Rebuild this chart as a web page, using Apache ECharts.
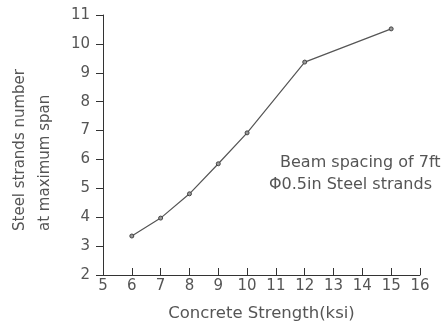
<!DOCTYPE html>
<html><head><meta charset="utf-8">
<script src="https://cdn.jsdelivr.net/npm/echarts@6/dist/echarts.min.js"></script>
<style>html,body{margin:0;padding:0;background:#fff}#c{width:446px;height:322px}</style>
</head><body><div id="c"></div>
<script>
var strength = [6, 7, 8, 9, 10, 12, 15];
var strands = [3.35, 3.97, 4.81, 5.85, 6.92, 9.37, 10.52];
var xTitle = 'Concrete Strength(ksi)';
var yTitle1 = 'Steel strands number';
var yTitle2 = 'at maximum span';
var note1 = 'Beam spacing of 7ft';
var note2 = 'Φ0.5in Steel strands';

var FONT = 'DejaVu Sans';
var TXT = '#555';
var chart = echarts.init(document.getElementById('c'), null, {renderer: 'canvas'});
chart.setOption({
  animation: false,
  backgroundColor: '#fff',
  grid: {left: 103, top: 15, right: 26, bottom: 47, containLabel: false, outerBoundsMode: 'none'},
  xAxis: {
    type: 'value', min: 5, max: 16, interval: 1,
    name: xTitle, nameLocation: 'middle', nameGap: 30,
    nameTextStyle: {fontFamily: FONT, fontSize: 16.5, color: TXT},
    axisLine: {lineStyle: {color: '#333', width: 1}},
    axisTick: {show: true, inside: true, length: 7, lineStyle: {color: '#333'}},
    axisLabel: {fontFamily: FONT, fontSize: 15, color: TXT, margin: 4},
    splitLine: {show: false}
  },
  yAxis: {
    type: 'value', min: 2, max: 11, interval: 1,
    axisLine: {show: true, lineStyle: {color: '#333', width: 1}},
    axisTick: {show: true, inside: false, length: 7, lineStyle: {color: '#333'}},
    axisLabel: {fontFamily: FONT, fontSize: 15, color: TXT, margin: 13},
    splitLine: {show: false}
  },
  series: [{
    type: 'line',
    data: strength.map(function (x, i) { return [x, strands[i]]; }),
    symbol: 'circle', symbolSize: 4, showSymbol: true,
    lineStyle: {color: '#555', width: 1.2},
    itemStyle: {color: '#999', borderColor: '#444', borderWidth: 1}
  }],
  graphic: [
    {type: 'text', x: 20, y: 231, rotation: Math.PI / 2,
     style: {text: yTitle1, font: '15px "' + FONT + '"', fill: TXT, align: 'left', verticalAlign: 'middle'}},
    {type: 'text', x: 45, y: 231, rotation: Math.PI / 2,
     style: {text: yTitle2, font: '15px "' + FONT + '"', fill: TXT, align: 'left', verticalAlign: 'middle'}},
    {type: 'text', x: 280, y: 163,
     style: {text: note1, font: '16px "' + FONT + '"', fill: TXT, align: 'left', verticalAlign: 'middle'}},
    {type: 'text', x: 269, y: 185,
     style: {text: note2, font: '16px "' + FONT + '"', fill: TXT, align: 'left', verticalAlign: 'middle'}}
  ]
});
</script></body></html>
